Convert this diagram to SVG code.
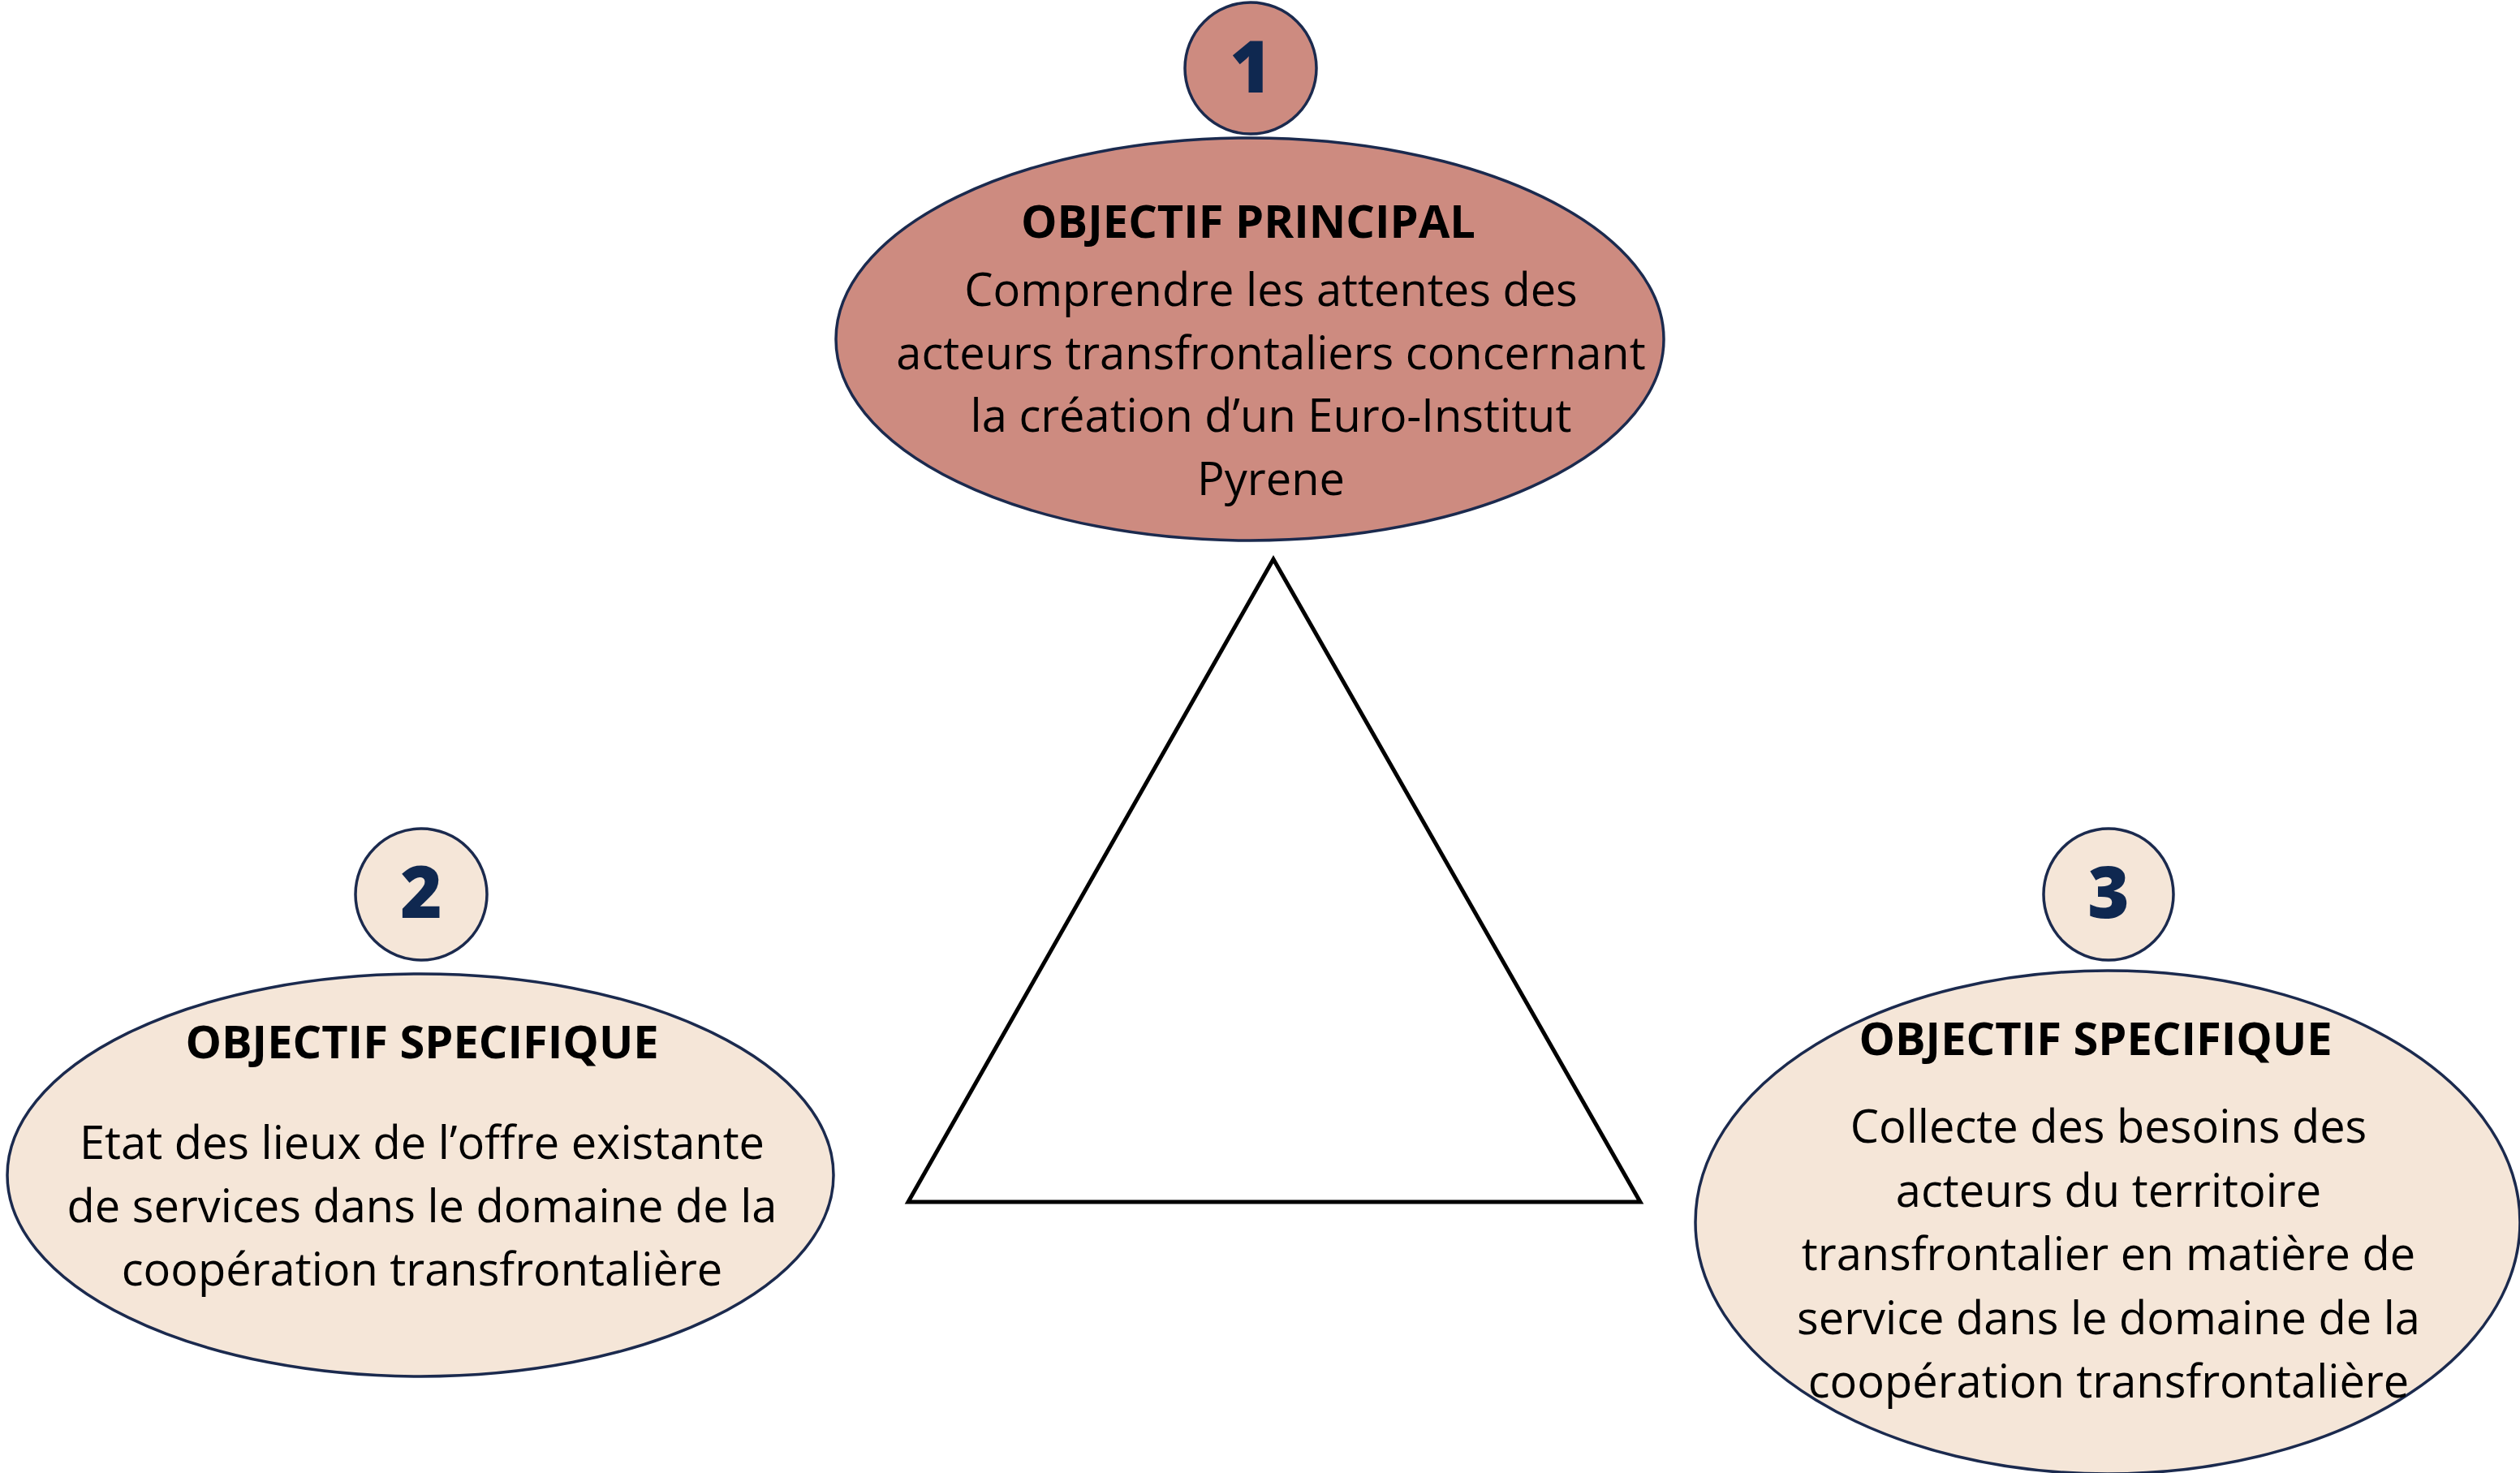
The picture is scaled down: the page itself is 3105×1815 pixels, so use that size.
<svg xmlns="http://www.w3.org/2000/svg" width="3105" height="1815" viewBox="0 0 3105 1815">
<style>
.bg{fill:#ffffff}
.main{fill:#CD8B80;stroke:#1B2A4E;stroke-width:3.5}
.spec{fill:#F5E6D8;stroke:#1B2A4E;stroke-width:3.5}
.num{font-family:"Open Sans","Noto Sans",sans-serif;font-weight:800;font-size:88px;fill:#0F2850;text-anchor:middle}
.title{font-family:"Open Sans","Noto Sans",sans-serif;font-weight:700;font-size:56px;fill:#000000;text-anchor:middle}
.body{font-family:"Open Sans","Noto Sans",sans-serif;font-weight:400;font-size:56px;fill:#000000;text-anchor:middle}
.tri{fill:none;stroke:#000000;stroke-width:5}
</style>
<rect class="bg" x="0" y="0" width="3105" height="1815"/>
<g id="triangle">
<polygon class="tri" points="1569,689 1119,1481 2021,1481"/>
</g>
<g id="connectors"></g>
<g id="node1">
<ellipse class="main" cx="1540" cy="418" rx="510" ry="248"/>
<ellipse class="main" cx="1541" cy="84" rx="81" ry="81"/>
<text class="num" x="1541" y="114">1</text>
<text class="title" x="1538" y="293">OBJECTIF PRINCIPAL</text>
<text class="body" x="1566" y="377">Comprendre les attentes des</text>
<text class="body" x="1566" y="455">acteurs transfrontaliers concernant</text>
<text class="body" x="1566" y="532">la création d’un Euro-Institut</text>
<text class="body" x="1566" y="610">Pyrene</text>
</g>
<g id="node2">
<ellipse class="spec" cx="518" cy="1448" rx="509" ry="248"/>
<ellipse class="spec" cx="519" cy="1102" rx="81" ry="81"/>
<text class="num" x="519" y="1131">2</text>
<text class="title" x="520" y="1304">OBJECTIF SPECIFIQUE</text>
<text class="body" x="520" y="1428">Etat des lieux de l’offre existante</text>
<text class="body" x="520" y="1506">de services dans le domaine de la</text>
<text class="body" x="520" y="1584">coopération transfrontalière</text>
</g>
<g id="node3">
<ellipse class="spec" cx="2597" cy="1506" rx="508" ry="310"/>
<ellipse class="spec" cx="2598" cy="1102" rx="80" ry="81"/>
<text class="num" x="2598" y="1131">3</text>
<text class="title" x="2582" y="1300">OBJECTIF SPECIFIQUE</text>
<text class="body" x="2598" y="1408">Collecte des besoins des</text>
<text class="body" x="2598" y="1487">acteurs du territoire</text>
<text class="body" x="2598" y="1565">transfrontalier en matière de</text>
<text class="body" x="2598" y="1644">service dans le domaine de la</text>
<text class="body" x="2598" y="1722">coopération transfrontalière</text>
</g>
</svg>
